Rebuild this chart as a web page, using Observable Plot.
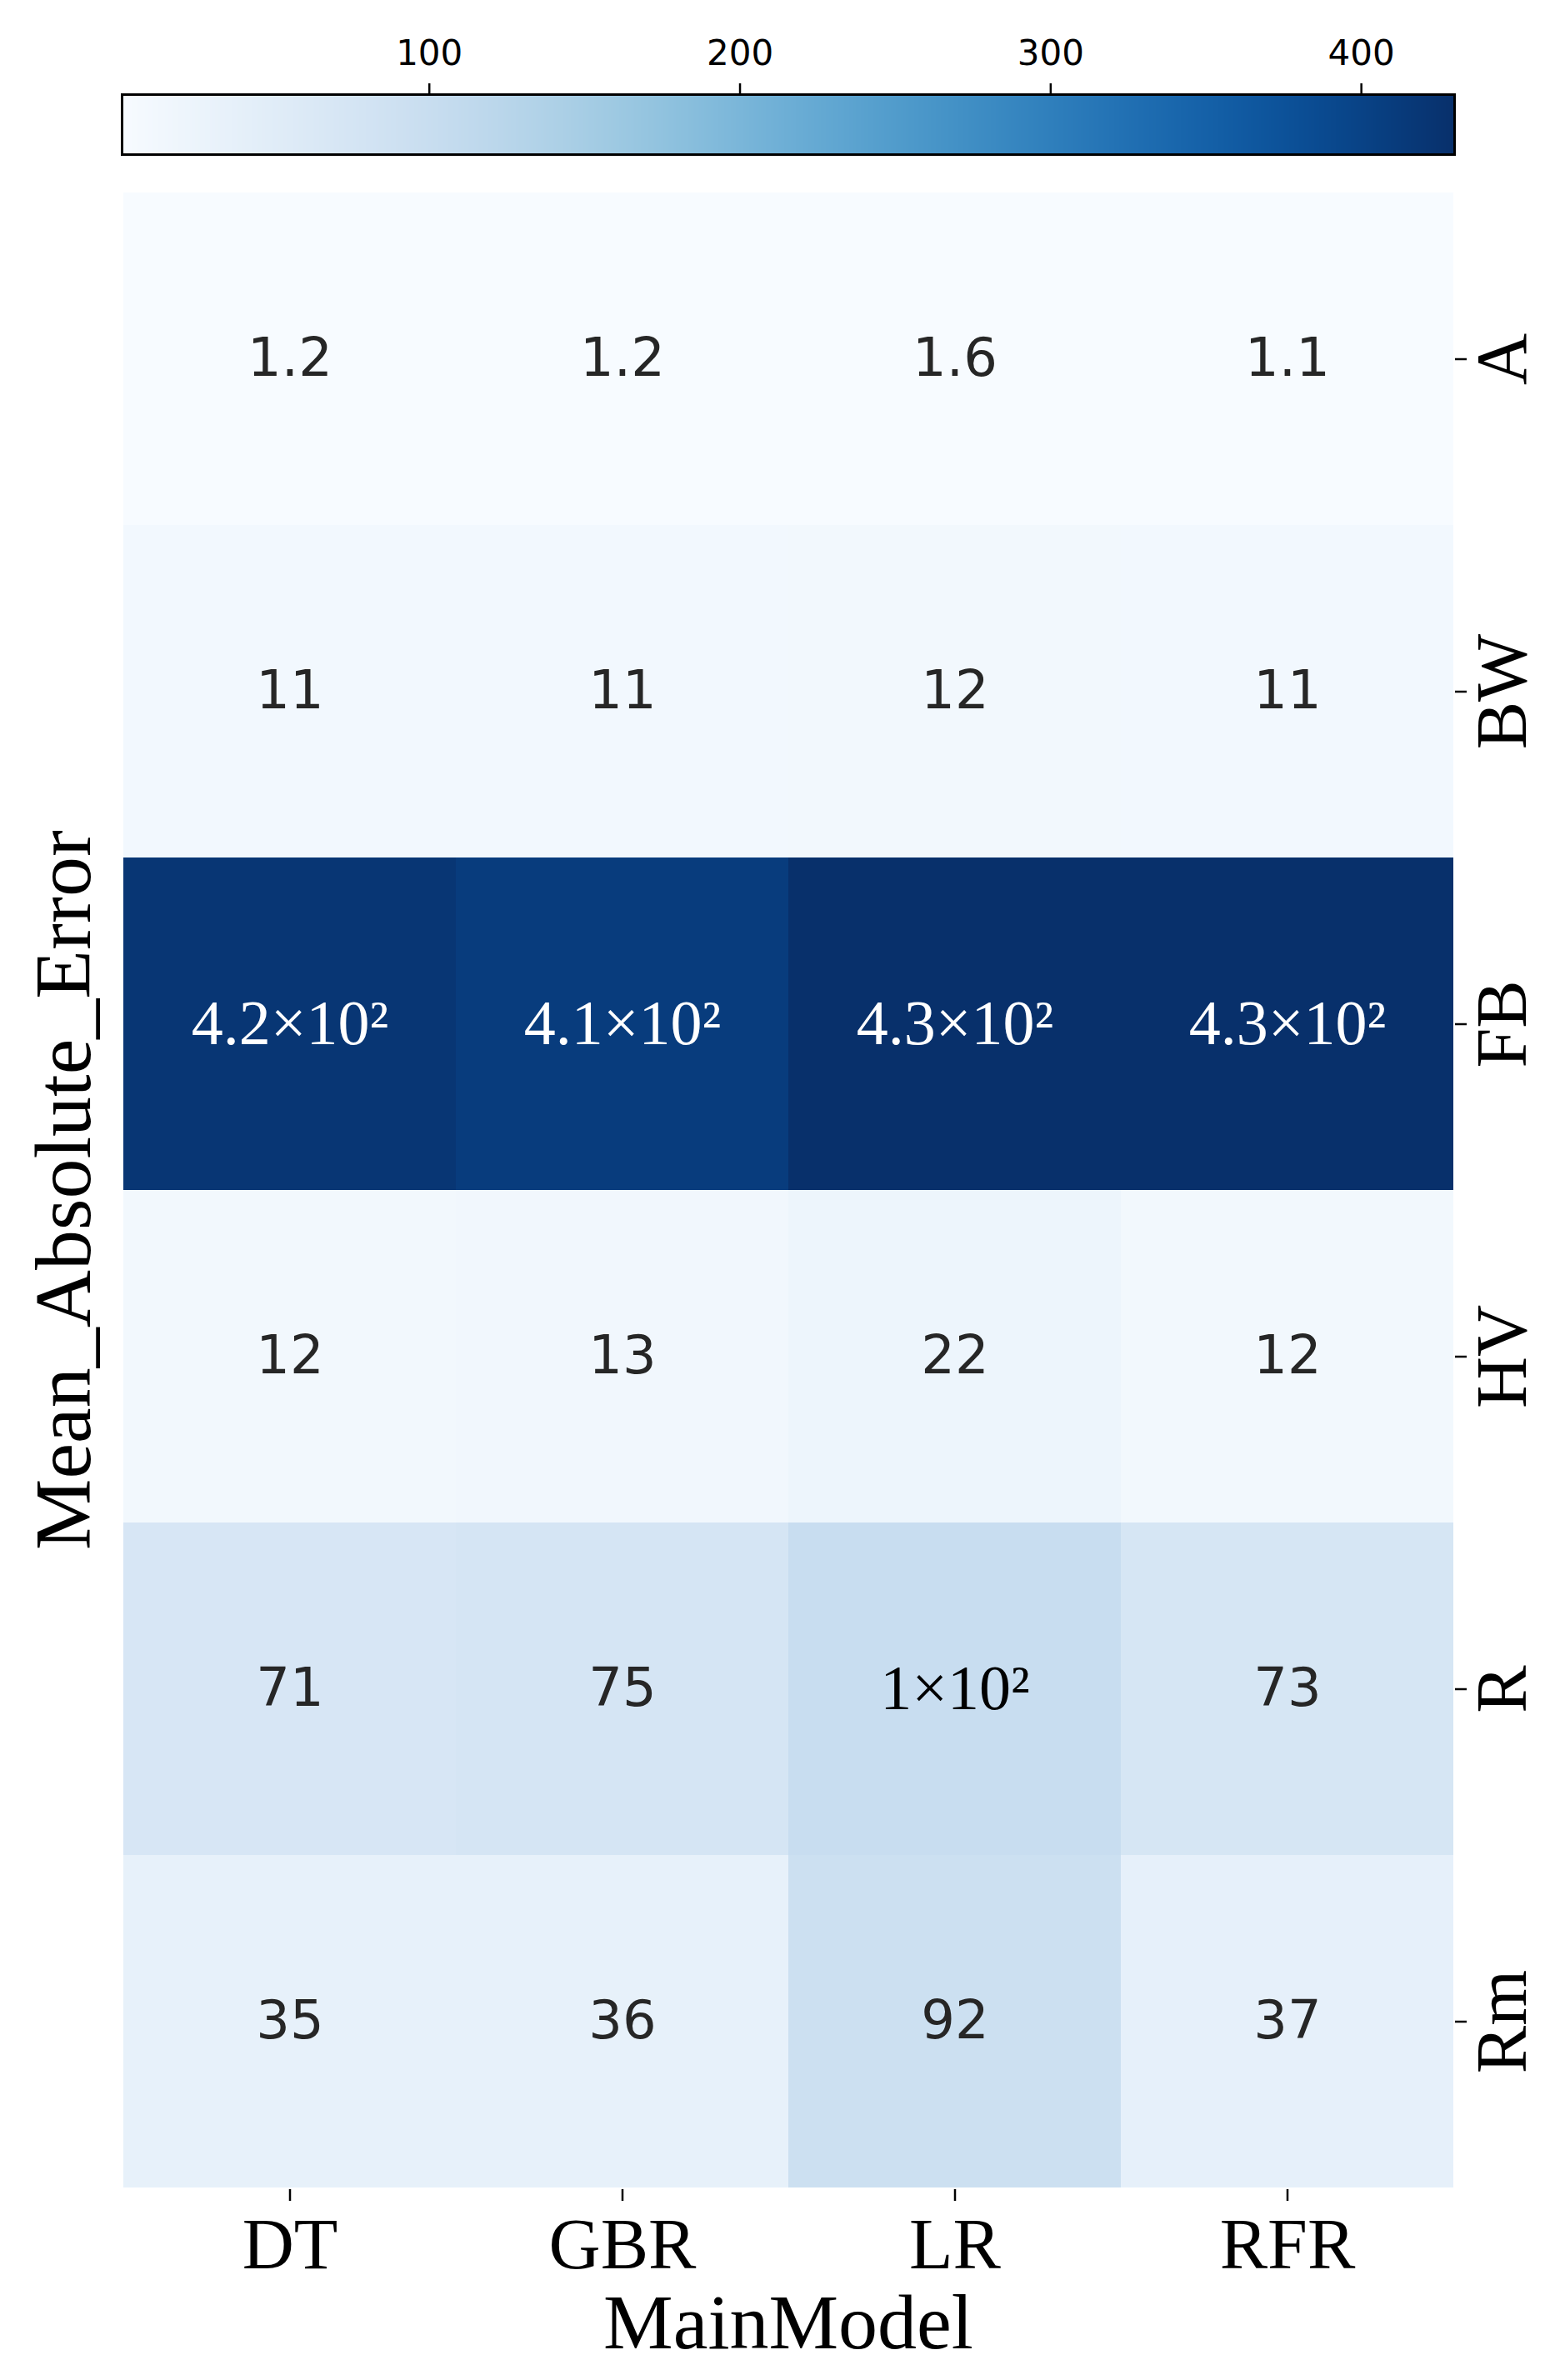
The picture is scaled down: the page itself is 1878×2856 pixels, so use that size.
<!DOCTYPE html>
<html><head><meta charset="utf-8">
<script src="https://cdn.jsdelivr.net/npm/d3@7"></script>
<script src="https://cdn.jsdelivr.net/npm/@observablehq/plot@0.6"></script>
<style>
html,body{margin:0;padding:0;background:#fff;}
#wrap{position:relative;width:1878px;height:2856px;overflow:hidden;background:#fff;}
#cbar{position:absolute;left:0;top:0;}
#heat{position:absolute;left:0;top:200px;}
</style></head><body><div id="wrap"><div id="cbar"></div><div id="heat"></div></div>
<script>
const models = ["DT", "GBR", "LR", "RFR"];
const targets = ["A", "BW", "FB", "HV", "R", "Rm"];
const DT  = [1.2, 11, 420, 12, 71, 35];
const GBR = [1.2, 11, 410, 13, 75, 36];
const LR  = [1.6, 12, 430, 22, 100, 92];
const RFR = [1.1, 11, 430, 12, 73, 37];
const cbarTicks = [100, 200, 300, 400];
const xTitle = "MainModel";
const yTitle = "Mean_Absolute_Error";

const series = {DT, GBR, LR, RFR};
const cells = [];
for (const m of models) series[m].forEach((v, i) => cells.push({model: m, target: targets[i], value: v}));
const vmin = d3.min(cells, d => d.value), vmax = d3.max(cells, d => d.value);
const color = {type: "linear", scheme: "blues", domain: [vmin, vmax]};

const sup = {"0":"⁰","1":"¹","2":"²","3":"³","4":"⁴","5":"⁵","6":"⁶","7":"⁷","8":"⁸","9":"⁹","-":"⁻"};
function fmt(v) {
  const s = d3.format(".2")(v);
  if (s.includes("e")) {
    const [m, e] = s.split("e");
    return m + "×10" + [...String(+e)].map(c => sup[c]).join("");
  }
  return s;
}
const isExp = d => fmt(d.value).includes("×");
const plain = cells.filter(d => !isExp(d));
const expDark = cells.filter(d => isExp(d) && d.value > 250);
const expLight = cells.filter(d => isExp(d) && d.value <= 250);

const cbar = Plot.plot({
  width: 1878, height: 200,
  marginLeft: 146, marginRight: 133, marginTop: 113, marginBottom: 15,
  x: {domain: [vmin, vmax]},
  y: {domain: [0, 1], axis: null},
  color,
  style: {fontFamily: "'DejaVu Sans', sans-serif", fontSize: "42px", background: "white", color: "black"},
  marks: [
    Plot.raster({fill: (x, y) => x, x1: vmin, x2: vmax, y1: 0, y2: 1, width: 800, height: 1}),
    Plot.frame({stroke: "black", strokeWidth: 3}),
    Plot.axisX(cbarTicks, {anchor: "top", tickSize: 14, tickPadding: 22, fontSize: 42, label: null, stroke: "black", strokeWidth: 2.5})
  ]
});
document.getElementById("cbar").appendChild(cbar);

const heat = Plot.plot({
  width: 1878, height: 2656,
  marginLeft: 146, marginRight: 133, marginTop: 28, marginBottom: 229,
  x: {domain: models, padding: 0},
  y: {domain: targets, padding: 0},
  color,
  style: {fontFamily: "'Liberation Serif', serif", fontSize: "86px", background: "white", color: "black"},
  marks: [
    Plot.cell(cells, {x: "model", y: "target", fill: "value", inset: 0}),
    Plot.text(plain, {x: "model", y: "target", text: d => fmt(d.value), fill: "#262626", fontFamily: "'DejaVu Sans', sans-serif", fontSize: 64}),
    Plot.text(expDark, {x: "model", y: "target", text: d => fmt(d.value), fill: "white", fontFamily: "'Liberation Serif', serif", fontSize: 76}),
    Plot.text(expLight, {x: "model", y: "target", text: d => fmt(d.value), fill: "black", fontFamily: "'Liberation Serif', serif", fontSize: 76}),
    Plot.axisX({anchor: "bottom", tickSize: 14, tickPadding: 19, fontSize: 86, label: null, stroke: "black", strokeWidth: 2.5}),
    Plot.axisY({anchor: "right", tickSize: 14, tickFormat: () => "", label: null, stroke: "black", strokeWidth: 2.5}),
    Plot.text(targets, {y: d => d, text: d => d, frameAnchor: "right", dx: 58, rotate: -90, textAnchor: "middle", lineAnchor: "middle", fontSize: 86, fill: "black"}),
    Plot.text([xTitle], {text: d => d, frameAnchor: "bottom", dy: 160, textAnchor: "middle", lineAnchor: "middle", fontSize: 94, fill: "black"}),
    Plot.text([yTitle], {text: d => d, frameAnchor: "left", dx: -69, rotate: -90, textAnchor: "middle", lineAnchor: "middle", fontSize: 96, fill: "black"})
  ]
});
document.getElementById("heat").appendChild(heat);
</script></body></html>
